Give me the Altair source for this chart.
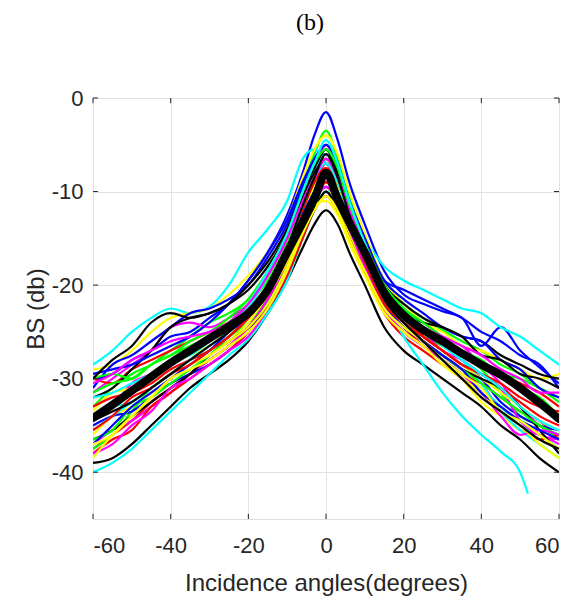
import altair as alt
import pandas as pd

# ---------------- data ----------------
ANGLES = [-60, -55, -50, -45, -40, -35, -30, -25, -20, -15, -10, -6, -3, 0,
          3, 6, 10, 15, 20, 25, 30, 35, 40, 45, 50, 55, 60]

curve_01 = [-30.0,-29.5,-28.0,-27.0,-25.5,-25.0,-23.5,-22.0,-19.5,-16.5,-12.5,-8.0,-4.0,-1.5,-4.5,-9.0,-13.5,-18.5,-21.0,-22.0,-22.8,-23.5,-26.5,-24.5,-27.0,-28.8,-30.5]
curve_02 = [-33.0,-31.0,-29.5,-28.5,-27.0,-25.5,-24.0,-23.0,-21.5,-18.5,-14.5,-9.5,-6.0,-3.5,-6.5,-10.5,-15.0,-19.5,-22.0,-23.5,-24.8,-26.0,-27.0,-28.5,-29.5,-31.0,-32.5]
curve_03 = [-37.5,-36.0,-34.5,-32.5,-31.0,-29.5,-28.0,-26.5,-24.5,-21.5,-18.0,-14.0,-11.5,-9.0,-11.0,-14.0,-17.5,-22.0,-24.5,-26.5,-28.0,-29.5,-30.5,-32.0,-33.5,-34.5,-36.5]
curve_04 = [-28.5,-27.0,-25.0,-23.5,-22.5,-23.0,-22.3,-20.0,-16.5,-14.0,-11.0,-6.5,-5.5,-7.0,-8.5,-12.0,-15.0,-18.0,-19.5,-20.5,-21.5,-22.5,-23.0,-24.5,-25.5,-27.0,-28.5]
curve_05 = [-31.5,-30.0,-28.5,-27.0,-24.5,-24.0,-24.5,-23.5,-22.0,-19.0,-15.0,-10.5,-7.5,-5.0,-7.5,-11.0,-15.5,-20.0,-22.5,-24.0,-25.5,-26.5,-28.5,-30.5,-33.0,-35.0,-36.0]
curve_06 = [-29.0,-28.5,-27.0,-25.0,-23.5,-23.0,-22.5,-21.0,-19.0,-16.5,-13.0,-8.5,-5.5,-4.0,-6.0,-10.0,-14.5,-19.5,-22.0,-24.0,-25.0,-26.5,-27.0,-28.0,-29.0,-30.0,-29.5]
curve_07 = [-39.0,-38.5,-37.0,-35.0,-33.0,-31.0,-29.5,-28.0,-26.0,-23.0,-19.5,-16.0,-13.5,-12.0,-13.5,-16.5,-20.0,-24.5,-27.0,-28.5,-30.0,-31.5,-33.0,-35.0,-36.5,-38.5,-40.0]
curve_08 = [-31.0,-28.5,-27.5,-26.0,-24.5,-23.0,-22.5,-21.5,-20.0,-17.0,-13.5,-9.5,-7.0,-6.0,-7.5,-11.0,-15.0,-19.5,-20.5,-21.5,-22.5,-23.5,-25.0,-26.0,-27.5,-28.5,-31.0]
curve_09 = [-37.5,-36.0,-33.5,-31.0,-29.5,-28.0,-27.0,-25.5,-24.0,-21.5,-17.5,-13.5,-10.5,-8.5,-10.5,-13.5,-17.5,-22.0,-24.0,-25.5,-26.5,-27.5,-29.0,-31.5,-34.0,-35.0,-36.5]
curve_10 = [-30.0,-30.5,-29.0,-28.0,-27.0,-26.0,-25.0,-24.0,-22.5,-20.0,-16.5,-12.5,-9.5,-7.0,-9.5,-12.5,-16.0,-20.5,-23.0,-24.5,-26.0,-27.5,-28.5,-29.5,-30.5,-31.5,-33.0]
curve_11 = [-40.0,-39.0,-37.5,-35.5,-33.5,-31.5,-29.5,-27.5,-25.8,-23.0,-19.5,-15.0,-12.0,-10.0,-11.5,-14.5,-18.0,-22.5,-25.0,-26.5,-28.0,-29.5,-31.0,-33.0,-35.0,-36.0,-37.5]
curve_12 = [-37.0,-35.5,-34.5,-33.0,-31.5,-29.5,-28.0,-26.5,-24.5,-21.5,-17.5,-13.0,-10.0,-7.5,-9.5,-13.0,-17.0,-21.5,-24.0,-26.0,-27.5,-29.0,-30.5,-33.5,-35.5,-36.0,-37.0]
curve_13 = [-36.0,-34.0,-33.0,-31.5,-30.5,-29.0,-27.5,-26.0,-24.0,-21.0,-17.5,-13.5,-11.0,-9.5,-11.5,-14.5,-18.5,-22.5,-25.0,-26.5,-28.0,-30.0,-32.5,-34.0,-35.5,-36.5,-37.5]
curve_14 = [-32.0,-31.0,-29.0,-27.0,-24.5,-23.5,-23.0,-22.0,-20.5,-18.0,-14.5,-10.5,-8.0,-6.5,-8.5,-12.0,-16.0,-21.0,-23.0,-24.0,-24.5,-25.5,-26.0,-27.5,-28.5,-29.5,-30.0]
curve_15 = [-35.0,-34.0,-33.5,-32.0,-30.5,-29.5,-28.5,-27.0,-25.0,-22.0,-18.0,-14.0,-11.0,-9.5,-11.0,-14.0,-17.5,-21.5,-24.0,-25.5,-27.0,-28.5,-30.0,-32.5,-34.0,-35.0,-35.5]
curve_16 = [-30.0,-29.5,-30.0,-28.5,-27.5,-26.5,-25.5,-24.0,-22.0,-19.5,-15.5,-11.5,-8.5,-6.5,-8.5,-12.0,-16.0,-20.5,-22.5,-24.0,-25.5,-27.0,-28.0,-29.5,-30.0,-31.0,-32.0]
curve_17 = [-38.0,-36.5,-35.5,-33.0,-31.5,-30.0,-28.5,-27.0,-25.0,-22.5,-19.0,-15.0,-12.0,-10.5,-12.0,-15.0,-18.5,-23.0,-25.5,-27.0,-28.5,-30.0,-31.5,-33.5,-35.0,-36.5,-36.0]
curve_18 = [-34.0,-33.0,-32.5,-31.0,-29.5,-28.0,-27.0,-25.0,-22.5,-19.0,-14.5,-10.0,-7.5,-6.0,-7.5,-11.0,-15.5,-20.0,-22.5,-24.5,-26.0,-28.0,-30.5,-33.5,-35.5,-37.0,-38.5]
curve_19 = [-34.5,-33.0,-30.5,-29.5,-28.5,-27.0,-26.0,-24.5,-23.0,-20.5,-16.5,-12.0,-9.0,-7.0,-9.0,-12.5,-17.0,-21.5,-23.5,-25.0,-27.0,-28.0,-29.5,-31.0,-34.5,-36.0,-36.5]
curve_20 = [-33.5,-31.5,-31.0,-29.5,-28.0,-27.5,-26.5,-25.0,-23.5,-21.0,-17.0,-12.5,-9.5,-7.5,-9.5,-13.0,-17.0,-21.0,-23.5,-25.5,-27.0,-28.5,-30.0,-31.5,-33.0,-34.5,-35.5]
curve_21 = [-36.5,-35.5,-34.0,-32.5,-31.0,-29.5,-27.5,-26.0,-24.5,-22.0,-18.5,-14.5,-12.0,-10.0,-12.0,-15.0,-18.5,-22.5,-24.5,-26.0,-27.5,-29.0,-30.0,-31.0,-33.0,-35.5,-38.0]
curve_22 = [-29.5,-29.0,-28.5,-27.5,-26.5,-25.5,-24.0,-22.0,-19.5,-16.5,-13.0,-9.0,-6.5,-5.0,-7.0,-11.0,-15.0,-19.5,-21.5,-23.0,-24.5,-25.5,-26.0,-28.0,-29.0,-31.0,-32.0]
curve_23 = [-36.5,-35.5,-33.0,-32.0,-30.5,-29.0,-27.5,-25.5,-23.5,-20.5,-16.5,-12.5,-10.0,-8.5,-10.0,-13.0,-17.0,-21.5,-24.0,-26.0,-27.5,-29.0,-30.5,-32.0,-33.5,-35.0,-36.0]
curve_24 = [-33.0,-32.0,-31.5,-30.5,-29.0,-28.0,-27.0,-25.5,-23.5,-20.5,-16.5,-12.0,-9.0,-7.5,-9.0,-12.5,-16.5,-21.0,-23.5,-25.5,-27.0,-28.5,-29.5,-30.5,-32.0,-33.0,-33.5]
curve_26 = [-38.0,-37.0,-35.0,-33.5,-31.0,-30.0,-28.5,-27.0,-25.5,-22.5,-18.5,-14.0,-11.0,-9.5,-11.0,-14.0,-18.0,-22.5,-25.0,-26.5,-28.0,-29.5,-31.5,-34.0,-36.0,-35.5,-36.0]
curve_27 = [-38.5,-36.0,-34.0,-32.0,-30.0,-28.5,-27.5,-26.0,-24.5,-22.0,-18.0,-14.0,-11.5,-11.0,-12.5,-15.5,-19.0,-23.0,-25.0,-26.5,-28.5,-30.0,-31.5,-33.5,-35.0,-37.0,-38.5]
curve_28 = [-30.0,-28.0,-26.5,-24.0,-23.0,-23.5,-23.0,-22.0,-20.0,-17.5,-14.0,-10.0,-7.5,-5.5,-8.0,-11.5,-15.5,-20.0,-22.0,-23.5,-24.5,-25.5,-27.5,-28.0,-29.5,-30.0,-31.0]
curve_29 = [-37.0,-35.0,-33.0,-31.5,-30.0,-28.5,-27.0,-25.0,-23.5,-20.5,-17.0,-12.5,-10.0,-8.0,-10.0,-13.5,-17.5,-22.0,-24.5,-26.0,-27.5,-29.0,-31.5,-33.0,-34.5,-35.5,-36.5]
curve_30 = [-31.5,-30.5,-30.0,-28.5,-27.5,-26.0,-25.0,-23.5,-21.5,-18.5,-14.5,-10.0,-7.0,-5.5,-7.5,-11.5,-15.5,-20.0,-22.5,-24.5,-26.0,-27.0,-28.5,-29.5,-31.0,-32.0,-34.0]
curve_31 = [-35.5,-34.0,-32.0,-31.0,-29.5,-28.5,-27.0,-25.5,-23.5,-21.0,-17.0,-13.0,-10.5,-9.0,-10.5,-13.5,-17.5,-22.0,-24.0,-25.5,-27.0,-28.5,-29.5,-31.0,-32.5,-34.0,-35.0]
curve_32 = [-32.0,-31.5,-30.5,-29.5,-28.0,-27.5,-26.0,-24.5,-22.0,-18.5,-14.5,-10.0,-7.0,-4.5,-7.0,-11.0,-15.5,-20.5,-23.0,-24.5,-26.5,-28.0,-29.5,-31.0,-33.0,-34.5,-35.5]
curve_33 = [-30.5,-29.5,-28.0,-27.0,-26.0,-25.5,-25.0,-24.0,-22.0,-19.0,-15.0,-11.0,-8.5,-6.5,-8.5,-12.0,-16.0,-20.5,-23.0,-24.5,-25.5,-26.5,-27.5,-29.0,-30.0,-31.5,-31.5]
curve_34 = [-37.0,-36.0,-34.0,-32.0,-30.0,-29.0,-28.0,-26.5,-25.0,-22.5,-18.5,-14.5,-12.0,-10.5,-12.0,-15.0,-18.5,-22.5,-24.5,-26.0,-28.0,-29.5,-31.0,-33.5,-34.5,-36.0,-37.5]
curve_35 = [-34.5,-33.5,-32.5,-31.0,-29.5,-28.0,-26.5,-25.0,-23.0,-20.0,-16.0,-11.5,-8.5,-6.0,-8.5,-12.5,-16.5,-21.5,-24.0,-26.0,-28.0,-30.0,-32.0,-33.5,-35.0,-36.5,-37.5]

# the cyan curve that drops away on the right and stops near 52 degrees
OUTLIER_ANGLES = [-60, -55, -50, -45, -40, -35, -30, -25, -20, -15, -10, -6, -3, 0,
                  3, 6, 10, 15, 20, 25, 30, 35, 40, 45, 50, 52]
curve_25 = [-35.5,-34.0,-32.5,-31.0,-29.5,-28.0,-26.5,-25.0,-23.0,-20.0,-16.0,-11.5,-8.5,-7.0,-9.0,-12.5,-17.0,-21.5,-25.5,-28.5,-31.5,-34.0,-36.0,-37.8,-40.0,-42.3]

# thick black mean curve
MEAN_BS = [-34.2,-32.8,-31.3,-29.8,-28.3,-27.0,-25.7,-24.4,-23.0,-20.5,-16.5,-13.3,-10.8,-8.0,-10.8,-13.3,-16.5,-20.8,-23.2,-24.8,-26.0,-27.3,-28.5,-29.6,-31.0,-32.6,-34.3]

CURVE_NAMES = ["c%02d" % i for i in range(1, 36)]
CURVE_COLORS = ["#0000FF", "#00FF00", "#FF0000", "#00FFFF", "#FF00FF", "#FFFF00", "#000000"] * 5

X_TICKS = [-60, -40, -20, 0, 20, 40, 60]
Y_TICKS = [-40, -30, -20, -10, 0]

# ---------------- build tables ----------------
curve_lists = {
    "c01": curve_01, "c02": curve_02, "c03": curve_03, "c04": curve_04, "c05": curve_05,
    "c06": curve_06, "c07": curve_07, "c08": curve_08, "c09": curve_09, "c10": curve_10,
    "c11": curve_11, "c12": curve_12, "c13": curve_13, "c14": curve_14, "c15": curve_15,
    "c16": curve_16, "c17": curve_17, "c18": curve_18, "c19": curve_19, "c20": curve_20,
    "c21": curve_21, "c22": curve_22, "c23": curve_23, "c24": curve_24, "c25": curve_25,
    "c26": curve_26, "c27": curve_27, "c28": curve_28, "c29": curve_29, "c30": curve_30,
    "c31": curve_31, "c32": curve_32, "c33": curve_33, "c34": curve_34, "c35": curve_35,
}
rows = []
for name in CURVE_NAMES:
    vals = curve_lists[name]
    angs = OUTLIER_ANGLES if name == "c25" else ANGLES
    for a, v in zip(angs, vals):
        rows.append({"curve": name, "angle": a, "bs": v})
df = pd.DataFrame(rows)
mean_df = pd.DataFrame({"angle": ANGLES, "bs": MEAN_BS})
xt_df = pd.DataFrame({"t": X_TICKS})
yt_df = pd.DataFrame({"t": Y_TICKS})

FONT = "Liberation Sans"
TXT = "#262626"
GRID = "#e2e2e2"
HYPHEN_LABEL = "'' + datum.value"

xscale = alt.Scale(domain=[-60, 60], nice=False, zero=False)
yscale = alt.Scale(domain=[-45, 0], nice=False, zero=False)

xaxis = alt.Axis(values=X_TICKS, grid=True, gridColor=GRID, gridWidth=1, ticks=False,
                 domain=False, labelFont=FONT, labelFontSize=22, labelColor=TXT,
                 labelExpr=HYPHEN_LABEL,
                 labelPadding=16, title="Incidence angles(degrees)", titleFont=FONT,
                 titleFontSize=24, titleFontWeight="normal", titleColor=TXT, titlePadding=15)
yaxis = alt.Axis(values=Y_TICKS, grid=True, gridColor=GRID, gridWidth=1, ticks=False,
                 domain=False, labelFont=FONT, labelFontSize=22, labelColor=TXT,
                 labelExpr=HYPHEN_LABEL,
                 labelPadding=10, title="BS (db)", titleFont=FONT, titleFontSize=24,
                 titleFontWeight="normal", titleColor=TXT, titlePadding=3)

lines = alt.Chart(df).mark_line(strokeWidth=2.2, clip=True, interpolate="monotone").encode(
    x=alt.X("angle:Q", scale=xscale, axis=xaxis),
    y=alt.Y("bs:Q", scale=yscale, axis=yaxis),
    color=alt.Color("curve:N", scale=alt.Scale(domain=CURVE_NAMES, range=CURVE_COLORS), legend=None),
)

mean_line = alt.Chart(mean_df).mark_line(color="#000000", strokeWidth=8, strokeJoin="round",
                                         strokeCap="round", clip=True,
                                         interpolate="monotone").encode(
    x=alt.X("angle:Q", scale=xscale),
    y=alt.Y("bs:Q", scale=yscale),
)

tick_col = "#262626"
bottom_ticks = alt.Chart(xt_df).mark_rule(color=tick_col, strokeWidth=1).encode(
    x=alt.X("t:Q", scale=xscale), y=alt.datum(-45), y2=alt.datum(-44.45))
top_ticks = alt.Chart(xt_df).mark_rule(color=tick_col, strokeWidth=1).encode(
    x=alt.X("t:Q", scale=xscale), y=alt.datum(0), y2=alt.datum(-0.55))
left_ticks = alt.Chart(yt_df).mark_rule(color=tick_col, strokeWidth=1).encode(
    y=alt.Y("t:Q", scale=yscale), x=alt.datum(-60), x2=alt.datum(-58.7))
right_ticks = alt.Chart(yt_df).mark_rule(color=tick_col, strokeWidth=1).encode(
    y=alt.Y("t:Q", scale=yscale), x=alt.datum(60), x2=alt.datum(58.7))

chart = alt.layer(lines, mean_line, bottom_ticks, top_ticks, left_ticks, right_ticks).properties(
    width=466, height=421,
    title=alt.TitleParams("(b)", font="Liberation Serif", fontSize=24, fontWeight="normal",
                          color="#000000", anchor="middle", frame="group", offset=52, dx=-16),
    autosize=alt.AutoSizeParams(type="none"),
    padding={"left": 93, "top": 98, "right": 24, "bottom": 87},
).configure_view(stroke="#262626", strokeWidth=1).configure(background="white")

chart.save("out.html", embed_options={"renderer": "svg", "actions": False})
